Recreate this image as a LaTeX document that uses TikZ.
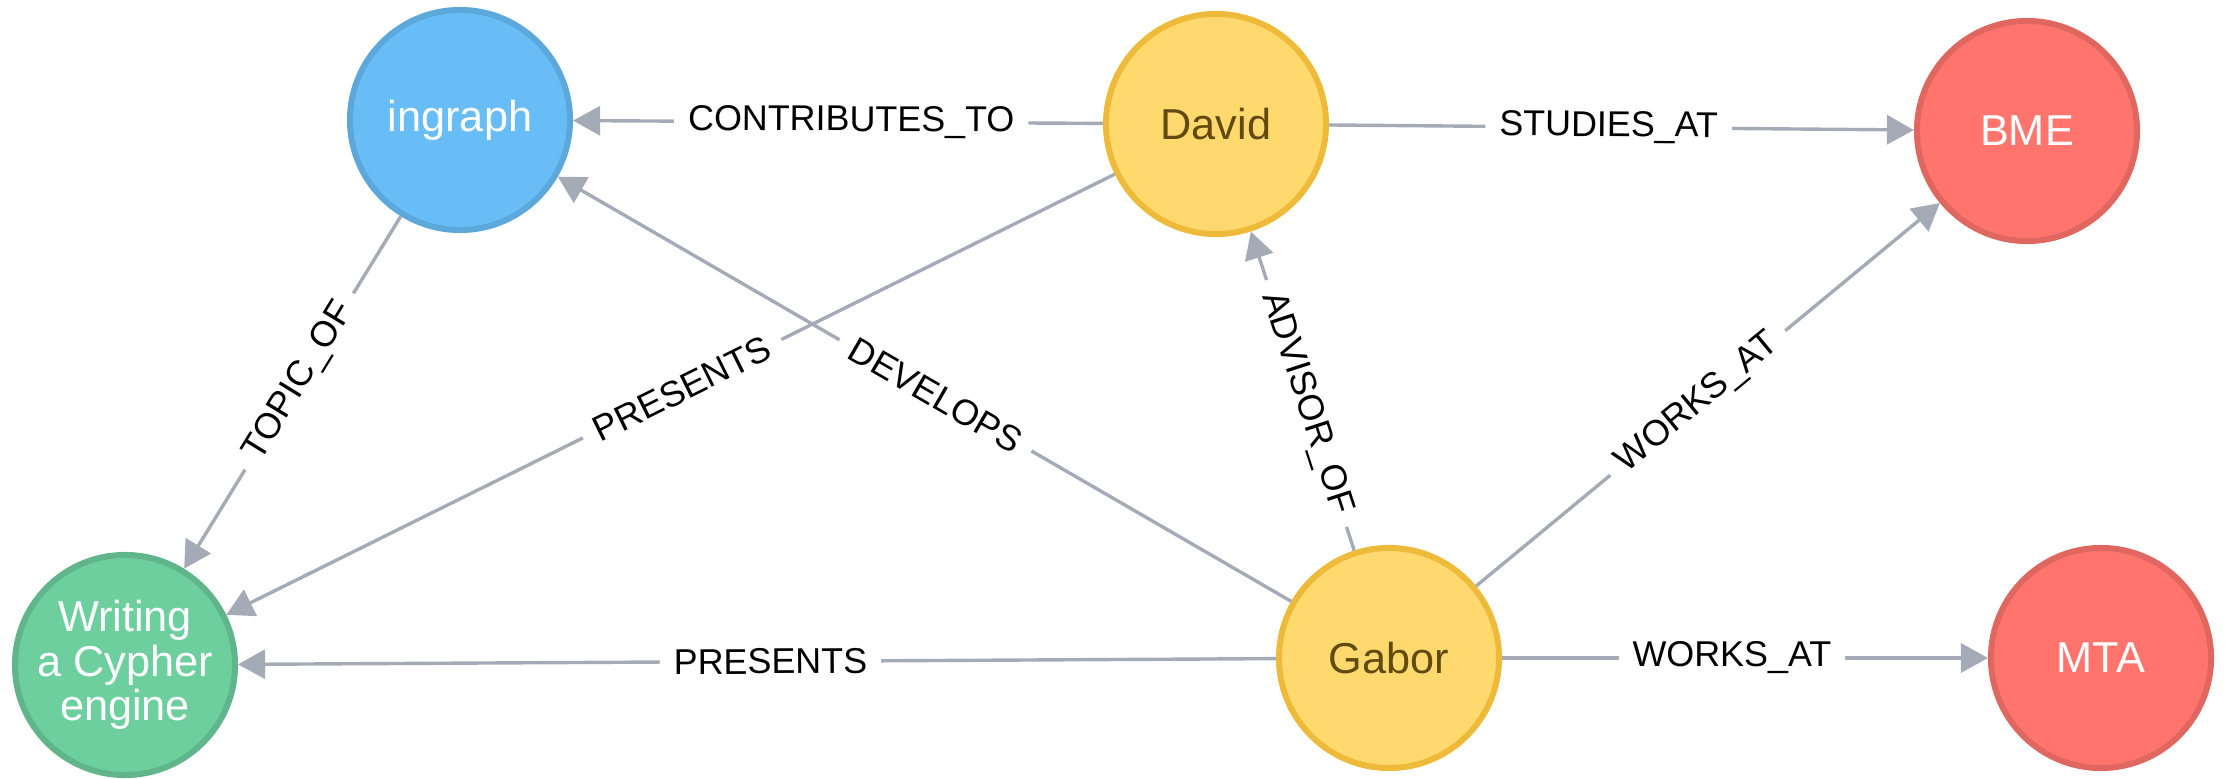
\documentclass[tikz,border=0pt]{standalone}
\usepackage{fontspec}
\setmainfont{Liberation Sans}
\usetikzlibrary{arrows.meta}
\definecolor{blueF}{HTML}{68BDF6}
\definecolor{blueD}{HTML}{5CA8DB}
\definecolor{yelF}{HTML}{FFD86E}
\definecolor{yelD}{HTML}{EDBA39}
\definecolor{yelT}{HTML}{604A0E}
\definecolor{redF}{HTML}{FF756E}
\definecolor{redD}{HTML}{E06760}
\definecolor{grnF}{HTML}{6DCE9E}
\definecolor{grnD}{HTML}{60B58B}
\definecolor{edgec}{HTML}{A5ABB6}
\tikzset{
  gnode/.style={circle, minimum size=2.2cm, line width=0.06cm, inner sep=0pt, align=center,
    font=\fontsize{12.3}{12.6}\selectfont},
  bluenode/.style={gnode, fill=blueF, draw=blueD, text=white},
  yelnode/.style={gnode, fill=yelF, draw=yelD, text=yelT},
  rednode/.style={gnode, fill=redF, draw=redD, text=white},
  grnnode/.style={gnode, fill=grnF, draw=grnD, text=white},
  rel/.style={draw=edgec, line width=0.034cm, -{Triangle[length=0.27cm,width=0.29cm]}},
  lbl/.style={fill=white, inner xsep=0.14cm, inner ysep=1pt, font=\fontsize{10.2}{11}\selectfont,
    text=black, sloped}
}
\begin{document}
\begin{tikzpicture}[x=0.01cm,y=-0.01cm]
\useasboundingbox (0,0) rectangle (2229,779);
\node[bluenode] (ingraph) at (460,120) {ingraph};
\node[yelnode] (david) at (1216,124) {David};
\node[rednode] (bme) at (2027,131) {BME};
\node[grnnode] (writing) at (125,665) {Writing\\a Cypher\\engine};
\node[yelnode] (gabor) at (1389,658) {Gabor};
\node[rednode] (mta) at (2101,658) {MTA};

\draw[rel] (david) -- node[lbl, pos=0.475]{CONTRIBUTES\_TO} (ingraph);
\draw[rel] (david) -- node[lbl, pos=0.478]{STUDIES\_AT} (bme);
\draw[rel] (ingraph) -- node[lbl, pos=0.469]{TOPIC\_OF} (writing);
\draw[rel] (david) -- node[lbl, pos=0.487]{PRESENTS} (writing);
\draw[rel] (gabor) -- node[lbl, pos=0.485]{DEVELOPS} (ingraph);
\draw[rel] (gabor) -- node[lbl, pos=0.461]{ADVISOR\_OF} (david);
\draw[rel] (gabor) -- node[lbl, pos=0.478]{WORKS\_AT} (bme);
\draw[rel] (gabor) -- node[lbl, pos=0.487]{PRESENTS} (writing);
\draw[rel] (gabor) -- node[lbl, pos=0.473]{WORKS\_AT} (mta);
\end{tikzpicture}
\end{document}
